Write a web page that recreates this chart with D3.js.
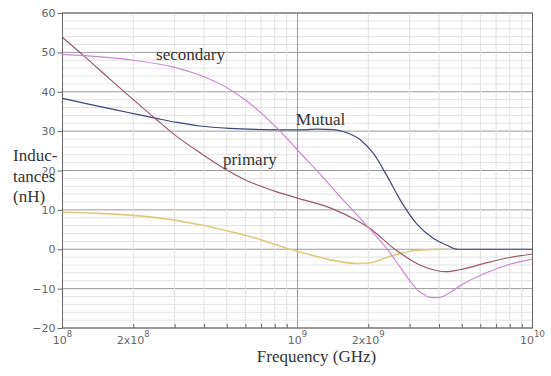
<!DOCTYPE html>
<html>
<head>
<meta charset="utf-8">
<script src="https://cdn.jsdelivr.net/npm/d3@7"></script>
<style>
  body { margin: 0; background: #fff; }
  .tickLb { font-family: "DejaVu Sans", sans-serif; font-size: 11px; fill: #666; }
  .serifLb { font-family: "Liberation Serif", "Times New Roman", serif; font-size: 17px; fill: #333; }
</style>
</head>
<body>
<div id="vis"></div>
<script>
const ctx = {
    w: 551,
    h: 376,
    left: 62.5,
    right: 532.5,
    top: 13,
    bottom: 328
};

// axis ticks / labels
const yMajorTicks = [-20, -10, 0, 10, 20, 30, 40, 50, 60];
const xLabelTicks = [1e8, 2e8, 1e9, 2e9, 1e10];
const xLabelPre = ["", "2x", "", "2x", ""];
const xLabelExp = ["8", "8", "9", "9", "10"];

// curves: [frequency, inductance nH]
const secondary = [[1e8,49.5],[2e8,48.0],[3e8,46.2],[3.85e8,44.2],[5.16e8,40.6],[6.1e8,37.6],[7.13e8,34.2],
    [8.1e8,31.0],[9.0e8,28.2],[1e9,25.2],[1.25e9,19.0],[1.56e9,12.6],[2.0e9,5.6],[2.41e9,0.0],
    [2.73e9,-4.5],[3.1e9,-9.0],[3.26e9,-10.5],[3.46e9,-11.5],[3.59e9,-12.1],[3.78e9,-12.3],
    [4.04e9,-12.2],[4.46e9,-11.0],[4.91e9,-9.3],[6.4e9,-5.9],[8.0e9,-3.8],[1e10,-2.5]];
const primary = [[1e8,53.8],[1.25e8,48.8],[1.59e8,43.2],[2e8,38.0],[2.48e8,33.2],[3.07e8,28.6],
    [3.85e8,24.5],[4.82e8,20.7],[6.1e8,17.4],[7.87e8,14.9],[1e9,13.0],[1.42e9,10.2],[1.79e9,7.3],
    [2.0e9,5.6],[2.65e9,-0.4],[3.32e9,-4.0],[3.78e9,-5.2],[4.24e9,-5.7],[4.91e9,-5.2],
    [6.4e9,-3.4],[8e9,-2.1],[1e10,-1.2]];
const mutual = [[1e8,38.3],[1.35e8,36.6],[1.88e8,34.8],[2.48e8,33.3],[3.07e8,32.2],[3.85e8,31.3],
    [5.16e8,30.7],[7.13e8,30.4],[1e9,30.3],[1.21e9,30.5],[1.42e9,30.4],[1.56e9,29.9],[1.85e9,27.8],
    [2.10e9,24.4],[2.41e9,18.5],[2.73e9,12.6],[3.23e9,6.3],[3.78e9,2.8],[4.33e9,1.0],[4.8e9,0],[1e10,0]];
const yellowCurve = [[1e8,9.4],[1.44e8,9.1],[2e8,8.6],[3e8,7.4],[3.85e8,6.2],[5.16e8,4.5],[6.92e8,2.5],
    [8.85e8,0.4],[1.13e9,-1.4],[1.38e9,-2.7],[1.79e9,-3.6],[2e9,-3.5],[2.48e9,-1.8],[3.1e9,-0.4],
    [4.04e9,0],[4.8e9,0]];

const series = [
    {name: "yellow", pts: yellowCurve, color: "#dccc7c", width: 1.6},
    {name: "mutual", pts: mutual, color: "#3f4678", width: 1.2},
    {name: "primary", pts: primary, color: "#9a5868", width: 1.2},
    {name: "secondary", pts: secondary, color: "#c88ad0", width: 1.2}
];

function createViz() {
    let svg = d3.select("#vis").append("svg")
        .attr("width", ctx.w)
        .attr("height", ctx.h);

    let xScale = d3.scaleLog().domain([1e8, 1e10]).range([ctx.left, ctx.right]);
    let yScale = d3.scaleLinear().domain([-20, 60]).range([ctx.bottom, ctx.top]);

    let minorX = [];
    [1e8, 1e9].forEach(d => { for (let m = 2; m <= 9; m++) minorX.push(m * d); });
    let minorY = d3.range(-20, 61, 2);

    // grid
    let grid = svg.append("g");
    grid.selectAll(".hmin").data(minorY).enter().append("line")
        .attr("x1", ctx.left).attr("x2", ctx.right)
        .attr("y1", d => yScale(d)).attr("y2", d => yScale(d))
        .style("stroke", d => d % 10 == 0 ? "#9a9a9a" : "#e2e2e2")
        .style("stroke-width", 1);
    grid.selectAll(".vmin").data(minorX.concat([1e9])).enter().append("line")
        .attr("x1", d => xScale(d)).attr("x2", d => xScale(d))
        .attr("y1", ctx.top).attr("y2", ctx.bottom)
        .style("stroke", d => d == 1e9 ? "#999" : "#e0e0e0")
        .style("stroke-width", 1);

    // frame
    svg.append("rect")
        .attr("x", ctx.left).attr("y", ctx.top)
        .attr("width", ctx.right - ctx.left).attr("height", ctx.bottom - ctx.top)
        .style("fill", "none").style("stroke", "#666").style("stroke-width", 1);

    // y axis
    let yAx = svg.append("g").attr("transform", `translate(${ctx.left},0)`);
    yAx.call(d3.axisLeft(yScale).tickValues(minorY).tickSize(3).tickFormat(""));
    yAx.call(d3.axisLeft(yScale).tickValues(yMajorTicks).tickSize(5).tickPadding(2));
    yAx.selectAll("path").remove();
    yAx.selectAll("line").style("stroke", "#666");
    yAx.selectAll("text").attr("class", "tickLb").attr("font-size", null).attr("font-family", null);

    // x axis
    let xAx = svg.append("g").attr("transform", `translate(0,${ctx.bottom})`);
    xAx.call(d3.axisBottom(xScale).tickValues(minorX).tickSize(-4).tickFormat(""));
    xAx.selectAll("path").remove();
    xAx.selectAll("line").style("stroke", "#666");

    let xl = svg.append("g");
    xLabelTicks.forEach((v, i) => {
        let t = xl.append("text")
            .attr("class", "tickLb")
            .attr("x", xScale(v))
            .attr("y", ctx.bottom + 16)
            .style("text-anchor", "middle");
        t.append("tspan").text(xLabelPre[i] + "10");
        t.append("tspan").attr("dy", -7).style("font-size", "8.5px").text(xLabelExp[i]);
    });

    // curves
    let line = d3.line()
        .x(d => xScale(d[0]))
        .y(d => yScale(d[1]))
        .curve(d3.curveMonotoneX);
    svg.selectAll(".curve").data(series).enter().append("path")
        .attr("d", d => line(d.pts))
        .style("fill", "none")
        .style("stroke", d => d.color)
        .style("stroke-width", d => d.width);

    // curve labels
    svg.append("text").attr("class", "serifLb")
        .attr("x", xScale(2.5e8)).attr("y", yScale(48)).text("secondary");
    svg.append("text").attr("class", "serifLb")
        .attr("x", xScale(9.86e8)).attr("y", yScale(31.5)).text("Mutual");
    svg.append("text").attr("class", "serifLb")
        .attr("x", xScale(4.82e8)).attr("y", yScale(21.3)).text("primary");

    // axis titles
    svg.append("text").attr("class", "serifLb")
        .attr("x", (ctx.left + ctx.right) / 2 + 19).attr("y", 362)
        .style("text-anchor", "middle").text("Frequency (GHz)");
    ["Induc-", "tances", "(nH)"].forEach((s, i) => {
        svg.append("text").attr("class", "serifLb")
            .attr("x", 13).attr("y", 161 + i * 20.5).text(s);
    });
}

createViz();
</script>
</body>
</html>
